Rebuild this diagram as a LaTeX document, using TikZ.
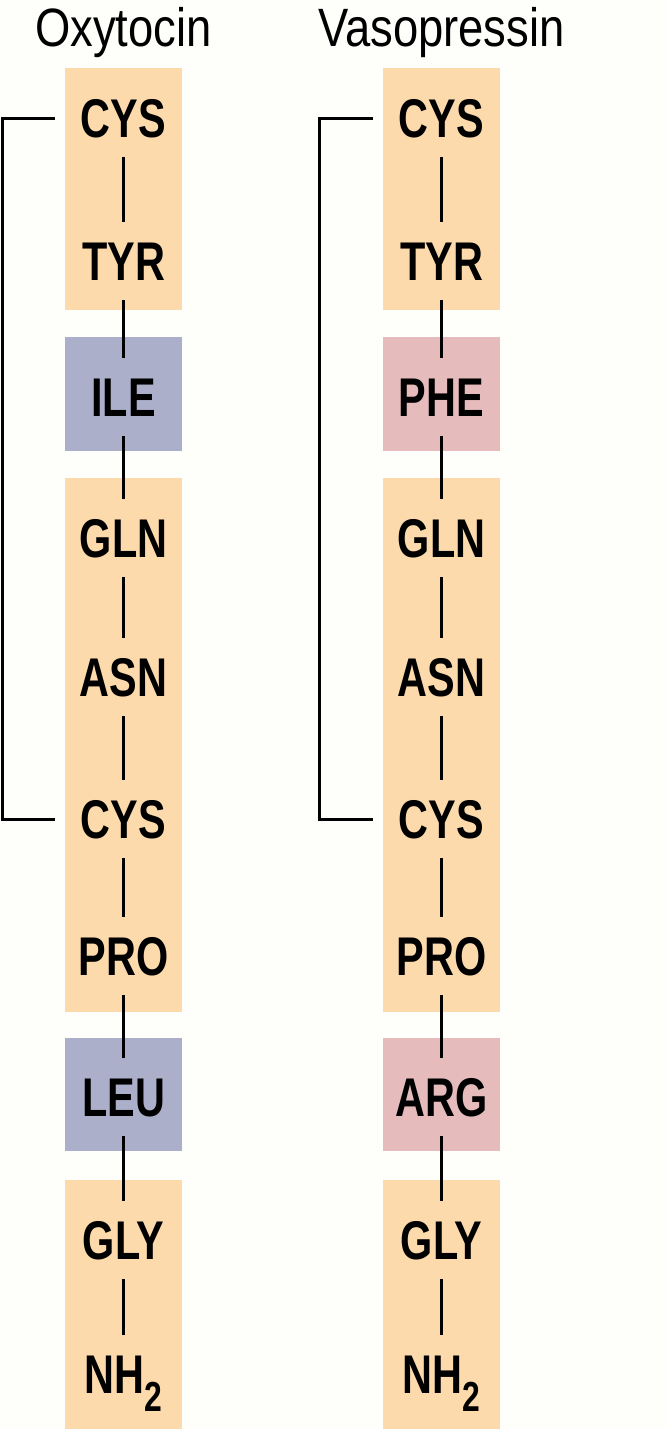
\documentclass[tikz,border=0pt]{standalone}
\usepackage{fontspec}
\setmainfont{Liberation Sans}
\newfontfamily\resfont{Liberation Sans}[FakeStretch=0.76]
\newfontfamily\namefont{Liberation Sans}[FakeStretch=0.84]
\definecolor{peach}{RGB}{252,218,172}
\definecolor{lilac}{RGB}{171,175,202}
\definecolor{rose}{RGB}{229,187,187}
\definecolor{paper}{RGB}{254,254,250}
\newcommand\nhtwo{NH\raisebox{-18pt}{\fontsize{42}{42}\selectfont 2}}

\tikzset{
  residue/.style={inner sep=0pt, minimum width=137pt, minimum height=78pt,
    text height=39pt, text depth=0pt,
    font=\resfont\bfseries\fontsize{54.5}{60}\selectfont},
  bond/.style={line width=3pt},
  title/.style={anchor=base, font=\namefont\fontsize{54}{60}\selectfont}
}

\begin{document}
\begin{tikzpicture}[x=1pt,y=-1pt]
        \fill[paper] (0,0) rectangle (668,1429);
        \useasboundingbox (0,0) rectangle (668,1429);
        % oxytocin boxes
        \fill[peach] (65,68) rectangle (182,310);
        \fill[lilac] (65,337) rectangle (182,451);
        \fill[peach] (65,478) rectangle (182,1012);
        \fill[lilac] (65,1038) rectangle (182,1151);
        \fill[peach] (65,1180) rectangle (182,1429);
        % vasopressin boxes
        \fill[peach] (383,68) rectangle (500,310);
        \fill[rose] (383,337) rectangle (500,451);
        \fill[peach] (383,478) rectangle (500,1012);
        \fill[rose] (383,1038) rectangle (500,1151);
        \fill[peach] (383,1180) rectangle (500,1429);
        \node[title] (oxy) at (123.5,47) {Oxytocin};
        \node[title] (vaso) at (441.5,47) {Vasopressin};
        \foreach \n/\y/\a/\b in {1/118/CYS/CYS, 2/261/TYR/TYR, 3/397/ILE/PHE,
            4/538/GLN/GLN, 5/677/ASN/ASN, 6/819/CYS/CYS, 7/956/PRO/PRO,
            8/1097/LEU/ARG, 9/1240/GLY/GLY, 10/1374/\nhtwo/\nhtwo} {
          \node[residue] (o\n) at (123.5,\y) {\a};
          \node[residue] (v\n) at (441.5,\y) {\b};
        }
        \foreach \i [count=\j from 2] in {1,...,9} {
          \draw[bond] (o\i.south) -- (o\j.north);
          \draw[bond] (v\i.south) -- (v\j.north);
        }
        % disulfide bridges
        \draw[bond] (o1.west) -- ++(-52,0) |- (o6.west);
        \draw[bond] (v1.west) -- ++(-53,0) |- (v6.west);
\end{tikzpicture}
\end{document}
